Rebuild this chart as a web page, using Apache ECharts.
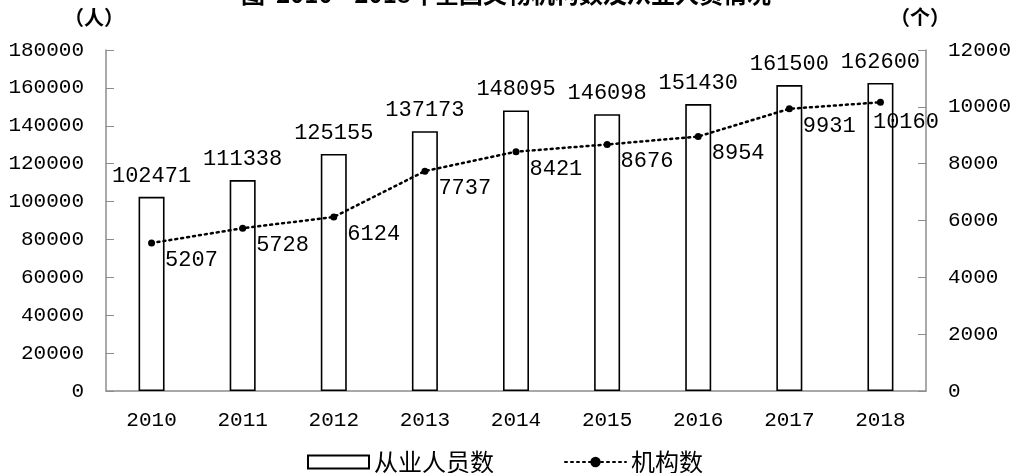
<!DOCTYPE html>
<html><head><meta charset="utf-8">
<script src="https://cdn.jsdelivr.net/npm/echarts@6/dist/echarts.min.js"></script>
<style>html,body{margin:0;padding:0;background:#fff}#c{width:1012px;height:473px}</style>
</head><body><div id="c"></div>
<script>
const years = ['2010','2011','2012','2013','2014','2015','2016','2017','2018'];
const staff = [102471,111338,125155,137173,148095,146098,151430,161500,162600];
const institutions = [5207,5728,6124,7737,8421,8676,8954,9931,10160];
const leftTicks = {min:0, max:180000, interval:20000};
const rightTicks = {min:0, max:12000, interval:2000};

const NUM = '"Liberation Mono", monospace';
const CJK = '"Noto Sans CJK SC", sans-serif';
const axisGray = '#8c8c8c';
const plain = v => String(v);

const chart = echarts.init(document.getElementById('c'));
const lineData = institutions.map((v,i)=> i===institutions.length-1
  ? {value:v, label:{offset:[-21,20]}} : v);

chart.setOption({
  animation:false,
  title:{text:'图  2010—2018年全国文物机构数及从业人员情况', left:'center', top:-23,
    textStyle:{fontFamily:CJK, fontSize:24, fontWeight:'bold', color:'#000'}},
  graphic:[
    {type:'text', left:64, top:7, style:{text:'（人）', font:'bold 20px "Noto Sans CJK SC"', fill:'#000'}},
    {type:'text', left:890, top:7, style:{text:'（个）', font:'bold 20px "Noto Sans CJK SC"', fill:'#000'}}
  ],
  grid:{left:106, right:86, top:50, bottom:82, outerBoundsMode:'none', containLabel:false},
  legend:{left:307, top:450, padding:0, itemWidth:61, itemHeight:13, itemGap:70,
    textStyle:{fontFamily:CJK, fontSize:24, color:'#000'},
    data:[{name:'从业人员数', icon:'rect'}, {name:'机构数'}]},
  xAxis:{type:'category', data:years,
    axisLine:{lineStyle:{color:axisGray, width:1.5}}, axisTick:{show:false},
    axisLabel:{fontFamily:NUM, fontSize:21, color:'#000', margin:19}},
  yAxis:[
    {type:'value', ...leftTicks, position:'left', splitLine:{show:false},
      axisLine:{show:true, lineStyle:{color:axisGray, width:1.5}},
      axisTick:{show:true, inside:true, length:8, lineStyle:{color:axisGray}},
      axisLabel:{fontFamily:NUM, fontSize:21, color:'#000', margin:22, formatter:plain}},
    {type:'value', ...rightTicks, position:'right', splitLine:{show:false},
      axisLine:{show:true, lineStyle:{color:axisGray, width:1.5}},
      axisTick:{show:true, inside:true, length:8, lineStyle:{color:axisGray}},
      axisLabel:{fontFamily:NUM, fontSize:21, color:'#000', margin:22, formatter:plain}}
  ],
  series:[
    {name:'从业人员数', type:'bar', data:staff, barWidth:26, yAxisIndex:0,
      itemStyle:{color:'#fff', borderColor:'#000', borderWidth:1.6},
      label:{show:true, position:'top', distance:10, fontFamily:NUM, fontSize:22, color:'#000'}},
    {name:'机构数', type:'line', data:lineData, yAxisIndex:1,
      symbol:'circle', symbolSize:7, itemStyle:{color:'#000'},
      lineStyle:{color:'#000', width:2.5, type:[2,4], cap:'round'},
      label:{show:true, position:'right', distance:10, offset:[0,17], fontFamily:NUM, fontSize:22, color:'#000'}}
  ]
});
</script></body></html>
